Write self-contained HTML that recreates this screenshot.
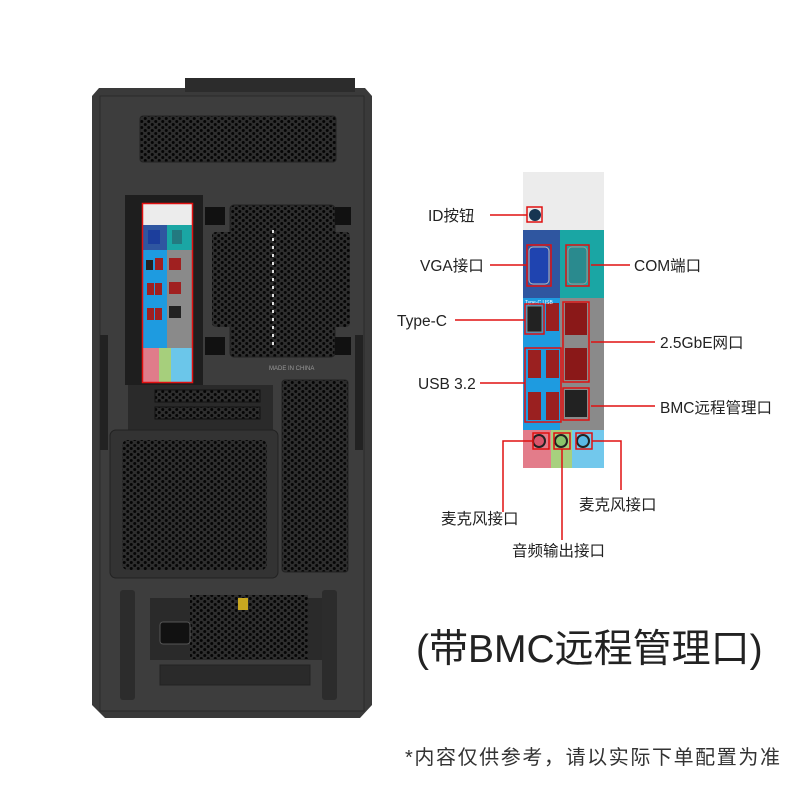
<!DOCTYPE html>
<html><head><meta charset="utf-8"><style>
html,body{margin:0;padding:0;background:#fff;}
svg{display:block;}
text{font-family:"Liberation Sans","Noto Sans CJK SC",sans-serif;}
</style></head><body>
<svg width="800" height="800" viewBox="0 0 800 800" xmlns="http://www.w3.org/2000/svg">
<defs>
<pattern id="hex" width="7" height="6" patternUnits="userSpaceOnUse">
<rect width="7" height="6" fill="#2e2e2e"/>
<circle cx="1.75" cy="1.5" r="1.5" fill="#050505"/>
<circle cx="5.25" cy="4.5" r="1.5" fill="#050505"/>
</pattern>
</defs>
<polygon points="185,78 355,78 355,88 365,88 372,96 372,705 360,718 105,718 92,705 92,96 99,88 185,88" fill="#3a3a3a"/>
<rect x="185" y="78" width="170" height="14" fill="#2c2c2c"/>
<rect x="100" y="96" width="264" height="615" fill="#3d3d3d" stroke="#2a2a2a"/>
<rect x="140" y="116" width="196" height="46" rx="3" fill="url(#hex)" stroke="#222"/>
<rect x="125" y="195" width="78" height="190" fill="#1e1e1e"/>
<rect x="230" y="205" width="105" height="152" rx="4" fill="url(#hex)" stroke="#222"/>
<rect x="212" y="232" width="138" height="95" rx="4" fill="url(#hex)"/>
<rect x="205" y="207" width="20" height="18" fill="#111"/><rect x="335" y="207" width="16" height="18" fill="#111"/>
<rect x="205" y="337" width="20" height="18" fill="#111"/><rect x="335" y="337" width="16" height="18" fill="#111"/>
<line x1="273" y1="230" x2="273" y2="345" stroke="#ddd" stroke-width="2" stroke-dasharray="3,5"/>
<text x="269" y="370" font-size="6" fill="#999">MADE IN CHINA</text>
<rect x="128" y="385" width="145" height="45" fill="#2a2a2a"/>
<rect x="155" y="390" width="105" height="12" fill="url(#hex)" stroke="#111"/>
<rect x="155" y="407" width="105" height="12" fill="url(#hex)" stroke="#111"/>
<rect x="110" y="430" width="168" height="148" rx="6" fill="#333" stroke="#222"/>
<rect x="122" y="440" width="145" height="130" rx="6" fill="url(#hex)"/>
<rect x="282" y="380" width="66" height="192" rx="3" fill="url(#hex)" stroke="#222"/>
<rect x="100" y="335" width="8" height="115" fill="#222"/>
<rect x="355" y="335" width="8" height="115" fill="#222"/>
<rect x="120" y="590" width="15" height="110" rx="3" fill="#2c2c2c"/>
<rect x="322" y="590" width="15" height="110" rx="3" fill="#2c2c2c"/>
<rect x="150" y="598" width="172" height="62" fill="#2a2a2a"/>
<rect x="190" y="595" width="118" height="64" fill="url(#hex)"/>
<rect x="160" y="622" width="30" height="22" rx="3" fill="#111" stroke="#555"/>
<rect x="238" y="598" width="10" height="12" fill="#c9a820"/>
<rect x="160" y="665" width="150" height="20" fill="#2a2a2a" stroke="#222"/>
<rect x="143" y="204" width="49" height="178" fill="#ececec"/>
<rect x="143" y="225" width="24" height="25" fill="#2f56a0"/><rect x="167" y="225" width="25" height="25" fill="#1aa6a4"/>
<rect x="143" y="250" width="24" height="98" fill="#1e9be0"/><rect x="167" y="250" width="25" height="98" fill="#8a8a8a"/>
<rect x="143" y="348" width="16" height="34" fill="#e07c8a"/><rect x="159" y="348" width="12" height="34" fill="#a6cf7c"/><rect x="171" y="348" width="21" height="34" fill="#6bc6ea"/>
<rect x="148" y="230" width="12" height="14" fill="#1c3e9c"/><rect x="172" y="230" width="10" height="14" fill="#237a80"/>
<rect x="146" y="260" width="7" height="10" fill="#222"/><rect x="155" y="258" width="8" height="12" fill="#a02020"/>
<rect x="147" y="283" width="7" height="12" fill="#a02020"/><rect x="155" y="283" width="7" height="12" fill="#a02020"/>
<rect x="147" y="308" width="7" height="12" fill="#a02020"/><rect x="155" y="308" width="7" height="12" fill="#a02020"/>
<rect x="169" y="258" width="12" height="12" fill="#a02020"/><rect x="169" y="282" width="12" height="12" fill="#a02020"/><rect x="169" y="306" width="12" height="12" fill="#222"/>
<rect x="142.5" y="203.5" width="50" height="179" fill="none" stroke="#e01010" stroke-width="1.5"/>

<rect x="523" y="172" width="81" height="58" fill="#ececec"/>
<rect x="523" y="230" width="37" height="68" fill="#2f56a0"/>
<rect x="560" y="230" width="44" height="68" fill="#1aa6a4"/>
<rect x="523" y="298" width="37" height="132" fill="#1e9be0"/>
<rect x="560" y="298" width="44" height="132" fill="#8a8a8a"/>
<rect x="523" y="430" width="28" height="38" fill="#e37c8a"/>
<rect x="551" y="430" width="21" height="38" fill="#a7d07e"/>
<rect x="572" y="430" width="32" height="38" fill="#72c8ec"/>
<circle cx="535" cy="215" r="6" fill="#173552"/>
<rect x="529" y="247" width="20" height="37" rx="4" fill="#1f44b0" stroke="#bbb"/>
<rect x="568" y="247" width="19" height="37" rx="4" fill="#2a8a8e" stroke="#999"/>
<rect x="527" y="306" width="15" height="26" fill="#222" stroke="#888"/>
<rect x="546" y="303" width="13" height="28" fill="#9a2020"/>
<rect x="528" y="350" width="13" height="28" fill="#9a2020"/><rect x="546" y="350" width="13" height="28" fill="#9a2020"/>
<rect x="528" y="392" width="13" height="28" fill="#9a2020"/><rect x="546" y="392" width="13" height="28" fill="#9a2020"/>
<rect x="565" y="303" width="22" height="32" fill="#8a1818"/>
<rect x="565" y="348" width="22" height="32" fill="#8a1818"/>
<rect x="565" y="390" width="22" height="27" fill="#222"/>
<circle cx="539" cy="441" r="6" fill="#d9556b" stroke="#222" stroke-width="2"/>
<circle cx="561" cy="441" r="6" fill="#8ac46a" stroke="#222" stroke-width="2"/>
<circle cx="583" cy="441" r="6" fill="#5ab8e6" stroke="#222" stroke-width="2"/>
<text x="525" y="304" font-size="5" fill="#fff">Type-C  USB</text>
<g fill="none" stroke="#e01010" stroke-width="1.5">
<rect x="527" y="207" width="15" height="15"/>
<rect x="527" y="245" width="24" height="41"/>
<rect x="566" y="245" width="23" height="41"/>
<rect x="525" y="304" width="19" height="30"/>
<rect x="525" y="348" width="36" height="74"/>
<rect x="563" y="302" width="26" height="80"/>
<rect x="563" y="388" width="26" height="32"/>
<rect x="533" y="433" width="16" height="16"/>
<rect x="554" y="433" width="16" height="16"/>
<rect x="576" y="433" width="16" height="16"/>
<path d="M490,215H527M490,265H527M591,265H630M455,320H525M591,342H655M480,383H525M591,406H655"/>
<path d="M533,441H503V512M562,449V540M592,441H621V490"/>
</g>
<g font-size="15.5" fill="#222">
<text x="428" y="221">ID按钮</text>
<text x="420" y="271">VGA接口</text>
<text x="634" y="271">COM端口</text>
<text x="397" y="326">Type-C</text>
<text x="660" y="348">2.5GbE网口</text>
<text x="418" y="389">USB 3.2</text>
<text x="660" y="413">BMC远程管理口</text>
<text x="441" y="524">麦克风接口</text>
<text x="579" y="510">麦克风接口</text>
<text x="512" y="556">音频输出接口</text>
</g>
<text x="416" y="662" font-size="39" fill="#222">(带BMC远程管理口)</text>
<text x="405" y="764" font-size="20" letter-spacing="1.6" fill="#333">*内容仅供参考，请以实际下单配置为准</text>
</svg>
</body></html>
